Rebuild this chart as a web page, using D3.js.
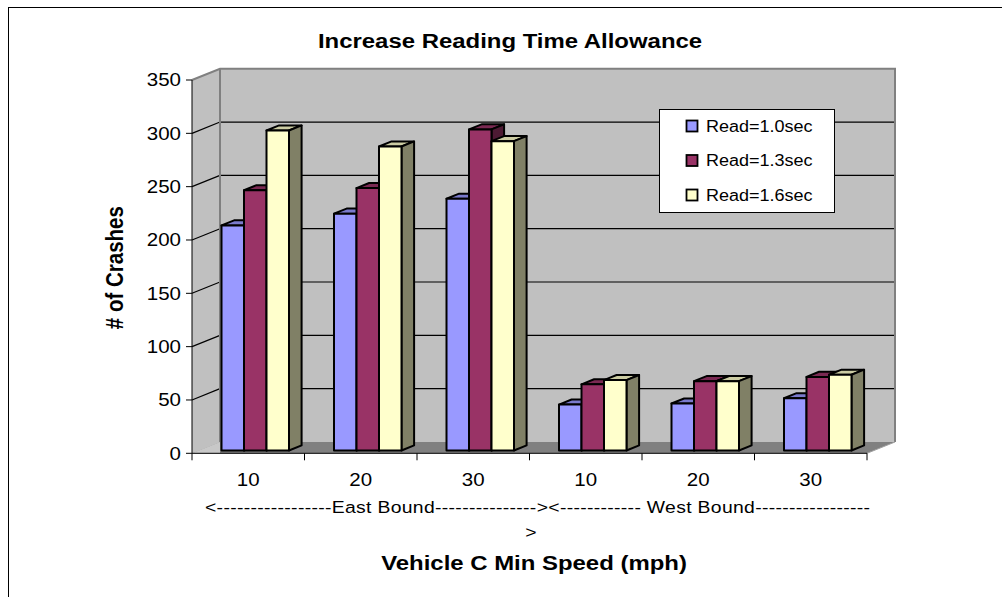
<!DOCTYPE html>
<html>
<head>
<meta charset="utf-8">
<script src="https://cdn.jsdelivr.net/npm/d3@7/dist/d3.min.js"></script>
<style>
  html, body { margin: 0; padding: 0; background: #fff; }
  svg { display: block; }
  text { font-family: "Liberation Sans", Arial, sans-serif; fill: #000; }
</style>
</head>
<body>
<svg id="chart" width="1002" height="597"></svg>
<script>
// Crash counts by minimum speed of vehicle C, for three reading-time allowances
const categories = ["10", "20", "30", "10", "20", "30"];
const seriesNames = ["Read=1.0sec", "Read=1.3sec", "Read=1.6sec"];
const read10 = [211, 222, 236, 43, 44, 49];
const read13 = [244, 246, 301, 62, 65, 69];
const read16 = [300, 285, 290, 66, 65, 71];
const yTicks = [0, 50, 100, 150, 200, 250, 300, 350];
const groupLabel = "<-----------------East Bound---------------><------------ West Bound-----------------";
const groupLabelWrap = ">";
const seriesColors = ["#9999FF", "#993366", "#FFFFCC"];

const series = [read10, read13, read16];

const svg = d3.select("#chart");
const SX = 1.14; // horizontal text stretch

// Front plane of the plot and the depth offset of the 3-D box
const pLeft = 192, pRight = 867, pBottom = 453.3, pTop = 80;
const depth = { x: 28, y: -11.3 };
const barFront = 0.25, barDepth = 0.45;

const x0 = d3.scaleBand().domain(d3.range(categories.length)).range([pLeft, pRight]);
const x1 = d3.scaleBand().domain(d3.range(seriesNames.length))
  .range([x0.bandwidth() * 0.2, x0.bandwidth() * 0.8]);
const y = d3.scaleLinear().domain([0, 350]).range([pBottom, pTop]);

function stext(parent, x, yy, str, opts = {}) {
  const g = parent.append("g")
    .attr("transform", `translate(${x},${yy}) scale(${SX},1)` + (opts.rotate ? ` rotate(${opts.rotate})` : ""));
  const t = g.append("text")
    .attr("x", 0).attr("y", 0)
    .attr("text-anchor", opts.anchor || "start")
    .style("font-size", (opts.size || 18) + "px")
    .style("font-weight", opts.bold ? "bold" : "normal")
    .text(str);
  if (opts.dy) t.attr("dy", opts.dy);
  if (opts.length) t.attr("textLength", opts.length / SX).attr("lengthAdjust", "spacing");
  return t;
}

// Outer chart border
svg.append("rect")
  .attr("x", 8.5).attr("y", 7.5).attr("width", 1100).attr("height", 700)
  .attr("fill", "#fff").attr("stroke", "#000").attr("stroke-width", 1);

const bx = pLeft + depth.x, by = pBottom + depth.y, ty = pTop + depth.y, rx = pRight + depth.x;

// Back wall
svg.append("rect")
  .attr("x", bx).attr("y", ty).attr("width", rx - bx).attr("height", by - ty)
  .attr("fill", "#C0C0C0");

// Side wall
svg.append("path")
  .attr("d", `M${pLeft},${pTop}L${bx},${ty}L${bx},${by}L${pLeft},${pBottom}Z`)
  .attr("fill", "#C0C0C0");

// Floor
svg.append("path")
  .attr("d", `M${pLeft},${pBottom}L${pRight},${pBottom}L${rx},${by}L${bx},${by}Z`)
  .attr("fill", "#808080");
svg.append("path")
  .attr("d", `M${pLeft},${pBottom}L${bx},${by}L${bx},${pBottom}Z`)
  .attr("fill", "#C8C8C8");

// Gridlines on the back wall and side wall
const grid = svg.append("g");
yTicks.filter(v => v > 0 && v < 350).forEach(v => {
  const yf = y(v), yb = y(v) + depth.y;
  grid.append("line").attr("x1", bx).attr("x2", rx).attr("y1", yb).attr("y2", yb)
    .attr("stroke", "#000").attr("stroke-width", 1.2);
  grid.append("line").attr("x1", pLeft).attr("x2", bx).attr("y1", yf).attr("y2", yb)
    .attr("stroke", "#000").attr("stroke-width", 1.2);
});

// Wall edges
svg.append("path")
  .attr("d", `M${pLeft},${pTop}L${bx},${ty}L${rx},${ty}L${rx},${by}`)
  .attr("fill", "none").attr("stroke", "#808080").attr("stroke-width", 2);
svg.append("line").attr("x1", bx).attr("x2", bx).attr("y1", ty).attr("y2", by)
  .attr("stroke", "#808080").attr("stroke-width", 2);
svg.append("line").attr("x1", pRight).attr("x2", rx).attr("y1", pBottom).attr("y2", by)
  .attr("stroke", "#A0A0A0").attr("stroke-width", 1);

// Bars: front face, top and right side, drawn left to right
function shade(c, k) {
  const col = d3.rgb(c);
  return d3.rgb(col.r * k, col.g * k, col.b * k).formatHex();
}
const fo = { x: depth.x * barFront, y: depth.y * barFront };
const bd = { x: depth.x * barDepth, y: depth.y * barDepth };
const bars = svg.append("g").attr("stroke", "#000").attr("stroke-width", 2).attr("stroke-linejoin", "round");
categories.forEach((c, i) => {
  series.forEach((vals, s) => {
    const xl = x0(i) + x1(s) + fo.x;
    const xr = xl + x1.bandwidth();
    const yt = y(vals[i]) + fo.y;
    const yb = y(0) + fo.y;
    const col = seriesColors[s];
    bars.append("path")
      .attr("d", `M${xl},${yt}L${xl + bd.x},${yt + bd.y}L${xr + bd.x},${yt + bd.y}L${xr},${yt}Z`)
      .attr("fill", shade(col, 0.8));
    bars.append("path")
      .attr("d", `M${xr},${yt}L${xr + bd.x},${yt + bd.y}L${xr + bd.x},${yb + bd.y}L${xr},${yb}Z`)
      .attr("fill", shade(col, 0.5));
    bars.append("rect")
      .attr("x", xl).attr("y", yt).attr("width", xr - xl).attr("height", yb - yt)
      .attr("fill", col);
  });
});

// Value axis
const yAxis = svg.append("g");
yAxis.append("line").attr("x1", pLeft).attr("x2", pLeft).attr("y1", pTop).attr("y2", pBottom)
  .attr("stroke", "#000").attr("stroke-width", 1);
yTicks.forEach(v => {
  yAxis.append("line").attr("x1", pLeft - 6).attr("x2", pLeft).attr("y1", y(v)).attr("y2", y(v))
    .attr("stroke", "#000").attr("stroke-width", 1);
  stext(yAxis, pLeft - 11, y(v), String(v), { anchor: "end", size: 18, dy: "0.35em" });
});

// Category axis
const xAxis = svg.append("g");
xAxis.append("line").attr("x1", pLeft).attr("x2", pRight).attr("y1", pBottom).attr("y2", pBottom)
  .attr("stroke", "#000").attr("stroke-width", 1);
d3.range(categories.length + 1).forEach(i => {
  const xx = i < categories.length ? x0(i) : pRight;
  xAxis.append("line").attr("x1", xx).attr("x2", xx).attr("y1", pBottom).attr("y2", pBottom + 7)
    .attr("stroke", "#000").attr("stroke-width", 1);
});
categories.forEach((c, i) => {
  stext(xAxis, x0(i) + x0.bandwidth() / 2, 486, c, { anchor: "middle", size: 18 });
});
stext(xAxis, 205, 513, groupLabel, { anchor: "start", size: 17, length: 665 });
stext(xAxis, 531, 538, groupLabelWrap, { anchor: "middle", size: 17 });

// Titles
stext(svg, 510, 48.3, "Increase Reading Time Allowance", { anchor: "middle", size: 21, bold: true });
stext(svg, 534, 570, "Vehicle C Min Speed (mph)", { anchor: "middle", size: 21, bold: true });
stext(svg, 123, (pTop + pBottom) / 2 + 1, "# of Crashes", { anchor: "middle", size: 20.5, bold: true, rotate: -90 });

// Legend
const lg = svg.append("g");
lg.append("rect").attr("x", 659.5).attr("y", 109.5).attr("width", 175).attr("height", 103)
  .attr("fill", "#fff").attr("stroke", "#000").attr("stroke-width", 1);
const legendY = [126, 160.5, 195];
seriesNames.forEach((name, s) => {
  lg.append("rect").attr("x", 686.5).attr("y", legendY[s] - 5.5).attr("width", 11).attr("height", 11)
    .attr("fill", seriesColors[s]).attr("stroke", "#000").attr("stroke-width", 1.8);
  stext(lg, 706, legendY[s], name, { size: 15.8, dy: "0.36em" });
});
</script>
</body>
</html>
